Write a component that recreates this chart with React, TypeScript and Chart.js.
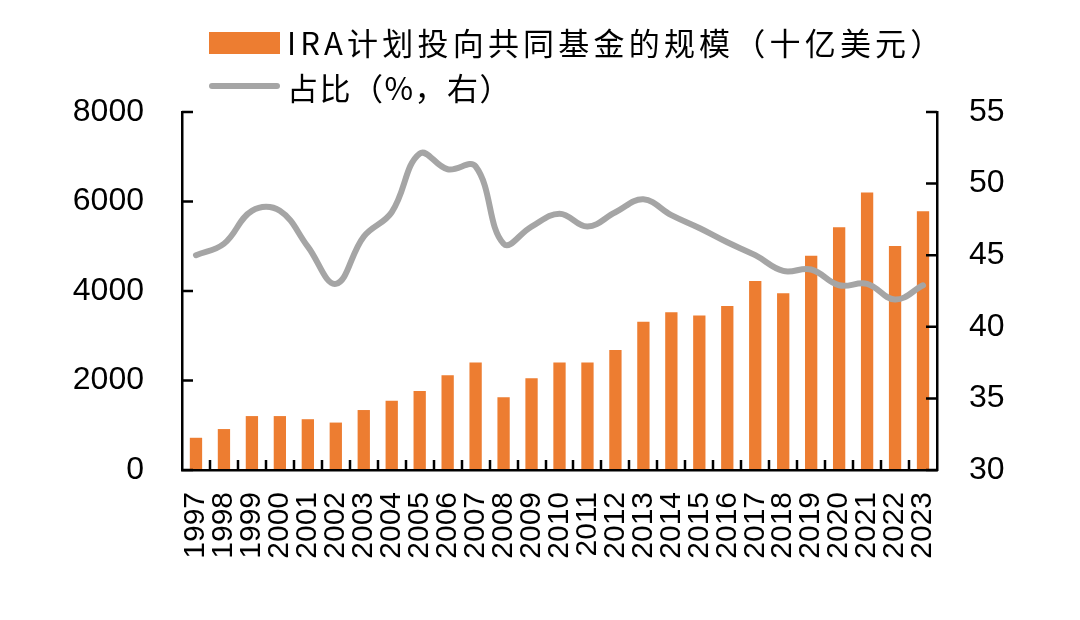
import { useEffect, useRef } from 'react';
import { Chart, registerables } from 'chart.js';

Chart.register(...registerables);

const years = [
  '1997', '1998', '1999', '2000', '2001', '2002', '2003', '2004', '2005',
  '2006', '2007', '2008', '2009', '2010', '2011', '2012', '2013', '2014',
  '2015', '2016', '2017', '2018', '2019', '2020', '2021', '2022', '2023',
];
// IRA计划投向共同基金的规模（十亿美元）
const iraFunds = [
  720, 915, 1205, 1205, 1135, 1060, 1340, 1550, 1765,
  2115, 2400, 1625, 2050, 2400, 2400, 2680, 3315, 3525,
  3450, 3665, 4225, 3950, 4790, 5425, 6200, 5005, 5780,
];
// 占比（%，右）
const share = [
  45.0, 45.8, 48.1, 48.1, 45.6, 43.0, 46.3, 48.0, 52.1,
  51.0, 51.2, 45.8, 47.0, 47.9, 47.0, 48.0, 48.9, 47.8,
  46.9, 45.9, 45.0, 43.9, 44.0, 42.9, 43.0, 41.9, 42.9,
];
const leftTicks = [0, 2000, 4000, 6000, 8000];
const rightTicks = [30, 35, 40, 45, 50, 55];

const ORANGE = '#ED7D31';
const GREY = '#A5A5A5';
const NUM_FONT = '"Liberation Sans", Arial, sans-serif';
const CJK_FONT = '"Noto Sans CJK SC", "Noto Sans", sans-serif';

// Excel-style tick marks pointing into the plot area
const innerTicks = {
  id: 'innerTicks',
  afterDatasetsDraw(chart: Chart) {
    const { ctx, chartArea, scales } = chart;
    const x = scales.x;
    const y = scales.y;
    const y1 = scales.y1;
    ctx.save();
    ctx.strokeStyle = '#000';
    ctx.lineWidth = 2.5;
    ctx.beginPath();
    for (let i = 1; i < x.ticks.length; i++) {
      const px = Math.round((x.getPixelForTick(i - 1) + x.getPixelForTick(i)) / 2);
      ctx.moveTo(px, chartArea.bottom);
      ctx.lineTo(px, chartArea.bottom - 10);
    }
    y.ticks.forEach((_t, i) => {
      const py = y.getPixelForTick(i);
      ctx.moveTo(chartArea.left, py);
      ctx.lineTo(chartArea.left + 11, py);
    });
    y1.ticks.forEach((_t, i) => {
      const py = y1.getPixelForTick(i);
      ctx.moveTo(chartArea.right, py);
      ctx.lineTo(chartArea.right - 11, py);
    });
    ctx.stroke();
    ctx.restore();
  },
};

export default function App() {
  const canvasRef = useRef<HTMLCanvasElement>(null);
  const chartRef = useRef<Chart | null>(null);

  useEffect(() => {
    if (!canvasRef.current) return;
    chartRef.current?.destroy();
    chartRef.current = new Chart(canvasRef.current, {
      type: 'bar',
      data: {
        labels: years,
        datasets: [
          {
            type: 'line',
            label: '占比（%，右）',
            data: share,
            yAxisID: 'y1',
            borderColor: GREY,
            borderWidth: 6,
            pointRadius: 0,
            tension: 0.4,
            borderCapStyle: 'round',
            order: 0,
          },
          {
            type: 'bar',
            label: 'IRA计划投向共同基金的规模（十亿美元）',
            data: iraFunds,
            yAxisID: 'y',
            backgroundColor: ORANGE,
            barPercentage: 0.44,
            categoryPercentage: 1,
            order: 1,
          },
        ],
      },
      options: {
        responsive: true,
        maintainAspectRatio: false,
        animation: false,
        layout: { padding: { top: 112, left: 0, right: 0, bottom: 0 } },
        plugins: {
          legend: { display: false },
          tooltip: { enabled: false },
        },
        scales: {
          x: {
            grid: { display: false, drawTicks: false },
            border: { display: true, color: '#000', width: 2.5, z: 1 },
            ticks: {
              color: '#000',
              font: { family: NUM_FONT, size: 30 },
              autoSkip: false,
              maxRotation: 90,
              minRotation: 90,
              padding: 22,
            },
            afterFit: (s) => { s.height = 150; },
          },
          y: {
            position: 'left',
            min: 0,
            max: 8000,
            afterBuildTicks: (s) => { s.ticks = leftTicks.map((v) => ({ value: v })); },
            grid: { display: false, drawTicks: false },
            border: { display: true, color: '#000', width: 2.5, z: 1 },
            ticks: {
              color: '#000',
              font: { family: NUM_FONT, size: 32 },
              padding: 38,
              callback: (v) => String(v),
            },
            afterFit: (s) => { s.width = 182; },
          },
          y1: {
            position: 'right',
            min: 30,
            max: 55,
            afterBuildTicks: (s) => { s.ticks = rightTicks.map((v) => ({ value: v })); },
            grid: { display: false, drawTicks: false },
            border: { display: true, color: '#000', width: 2.5, z: 1 },
            ticks: {
              color: '#000',
              font: { family: NUM_FONT, size: 32 },
              padding: 32,
              callback: (v) => String(v),
            },
            afterFit: (s) => { s.width = 143; },
          },
        },
      },
      plugins: [innerTicks],
    });
    return () => { chartRef.current?.destroy(); };
  }, []);

  const legendText: React.CSSProperties = {
    position: 'absolute',
    left: 287,
    fontFamily: CJK_FONT,
    fontSize: 31,
    lineHeight: '36px',
    color: '#000',
    whiteSpace: 'nowrap',
  };

  return (
    <div style={{ position: 'fixed', top: 0, left: 0, width: 1080, height: 620, background: '#fff' }}>
      <canvas ref={canvasRef} />
      <div style={{ position: 'absolute', left: 209, top: 32, width: 71, height: 22, background: ORANGE }} />
      <div style={{ ...legendText, top: 24, letterSpacing: 4.2 }}>IRA计划投向共同基金的规模（十亿美元）</div>
      <div style={{ position: 'absolute', left: 209, top: 83, width: 71, height: 6, borderRadius: 3, background: GREY }} />
      <div style={{ ...legendText, top: 69, letterSpacing: 1.5 }}>占比（%，右）</div>
    </div>
  );
}
